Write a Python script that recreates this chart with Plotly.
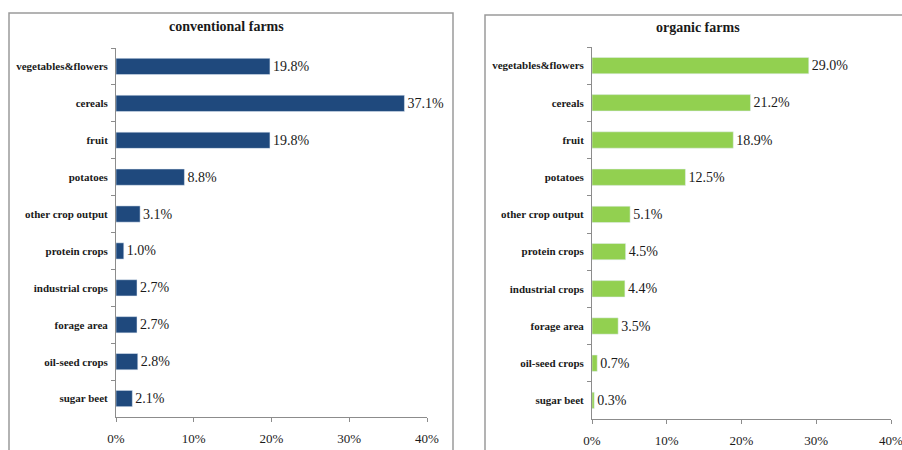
import plotly.graph_objects as go

W, H = 902, 450

crops = ["vegetables&flowers", "cereals", "fruit", "potatoes", "other crop output",
         "protein crops", "industrial crops", "forage area", "oil-seed crops", "sugar beet"]
conventional = [19.8, 37.1, 19.8, 8.8, 3.1, 1.0, 2.7, 2.7, 2.8, 2.1]
organic = [29.0, 21.2, 18.9, 12.5, 5.1, 4.5, 4.4, 3.5, 0.7, 0.3]
x_ticks = [0, 10, 20, 30, 40]
x_tick_labels = ["0%", "10%", "20%", "30%", "40%"]

SERIF = "Liberation Serif"
AXIS_GREY = "#8c8c8c"


def px_x(v):
    return v / W


def px_y(v):
    return 1 - v / H


fig = go.Figure()

fig.add_trace(go.Bar(
    y=crops, x=conventional, orientation="h", marker_color="#1f497d",
    width=0.44, text=[f"{v:.1f}%" for v in conventional], textposition="outside",
    textfont=dict(family=SERIF, size=14, color="#1a1a1a"), cliponaxis=False,
    xaxis="x", yaxis="y", showlegend=False,
))
fig.add_trace(go.Bar(
    y=crops, x=organic, orientation="h", marker_color="#92d050",
    width=0.44, text=[f"{v:.1f}%" for v in organic], textposition="outside",
    textfont=dict(family=SERIF, size=14, color="#1a1a1a"), cliponaxis=False,
    xaxis="x2", yaxis="y2", showlegend=False,
))

xaxis_common = dict(
    range=[0, 40], tickvals=x_ticks, ticktext=x_tick_labels, showgrid=False,
    zeroline=False, showline=True, linecolor=AXIS_GREY, linewidth=1,
    ticks="outside", ticklen=4, tickcolor=AXIS_GREY, automargin=False,
    ticklabeloverflow="allow", ticklabelstandoff=5,
    tickfont=dict(family=SERIF, size=13, color="#1a1a1a"), fixedrange=True,
)
yaxis_common = dict(
    autorange="reversed", showgrid=False, zeroline=False, showline=True,
    linecolor=AXIS_GREY, linewidth=1, ticks="outside", ticklen=4,
    tickcolor=AXIS_GREY, tickson="boundaries", automargin=False,
    ticklabelstandoff=5,
    tickfont=dict(family=SERIF, size=11, color="#1a1a1a", weight="bold"),
    fixedrange=True,
)

fig.update_layout(
    width=W, height=H, margin=dict(l=0, r=0, t=0, b=0),
    paper_bgcolor="white", plot_bgcolor="white", bargap=0.5,
    xaxis=dict(domain=[px_x(116), px_x(427)], anchor="y", **xaxis_common),
    yaxis=dict(domain=[px_y(417), px_y(48)], anchor="x", **yaxis_common),
    xaxis2=dict(domain=[px_x(592), px_x(891)], anchor="y2", **xaxis_common),
    yaxis2=dict(domain=[px_y(419), px_y(47)], anchor="x2", **yaxis_common),
)

# panel frames
fig.add_shape(type="rect", xref="paper", yref="paper",
              x0=px_x(9), x1=px_x(453), y0=px_y(452), y1=px_y(13),
              line=dict(color="#9a9a9a", width=1.5))
fig.add_shape(type="rect", xref="paper", yref="paper",
              x0=px_x(485), x1=px_x(906), y0=px_y(452), y1=px_y(15),
              line=dict(color="#9a9a9a", width=1.5))

# panel titles
for cx, cy, title in [(226, 26, "conventional farms"), (698, 27, "organic farms")]:
    fig.add_annotation(x=px_x(cx), y=px_y(cy), xref="paper", yref="paper",
                       xanchor="center", yanchor="middle",
                       text=f"<b>{title}</b>", showarrow=False,
                       font=dict(family=SERIF, size=14, color="#1a1a1a"))

fig.write_html("out.html")
